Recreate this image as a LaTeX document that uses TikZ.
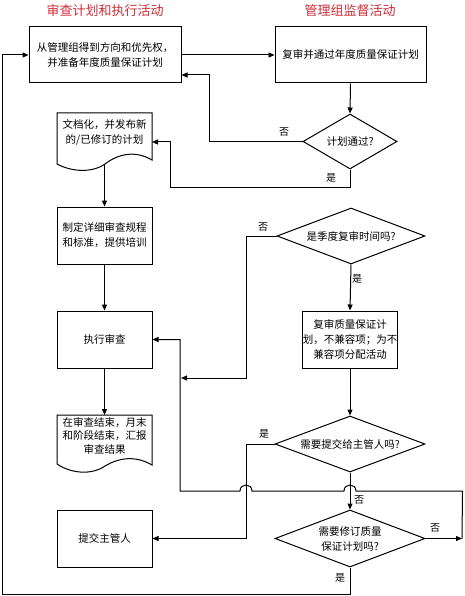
\documentclass[tikz,border=0pt]{standalone}
\usepackage{fontspec}
\newfontfamily\cjk{Noto Sans CJK SC}
\usetikzlibrary{shapes.geometric,arrows.meta}
\definecolor{titlered}{RGB}{205,45,55}
\begin{document}
\begin{tikzpicture}[x=1pt,y=-1pt,
  every node/.style={font=\cjk\fontsize{10.5}{15}\selectfont, align=center, inner sep=0pt},
  box/.style={draw, line width=1pt, minimum width=95pt, minimum height=57pt},
  dia/.style={draw, diamond, line width=1pt},
  ttl/.style={font=\cjk\fontsize{13}{15}\selectfont, text=titlered},
  lab/.style={font=\cjk\fontsize{10}{12}\selectfont},
  doc/.style={line width=1pt},
  arr/.style={line width=1pt, -{Triangle[length=6pt,width=5pt]}},
  ln/.style={line width=1pt}]
\useasboundingbox (0,0) rectangle (464,596);

% titles
\node[ttl] (tl) at (105,11) {审查计划和执行活动};
\node[ttl] (tr) at (350,11) {管理组监督活动};

% left column
\node[box, minimum width=152pt, minimum height=56pt] (A) at (105,55) {从管理组得到方向和优先权，\\并准备年度质量保证计划};
\draw[doc] (57,113) -- (152,113) -- (152,160) .. controls (135,150) and (118,154) .. (105,164) .. controls (92,173) and (72,172) .. (57,164) -- cycle;
\node (C) at (104.5,132.5) {文档化，并发布新\\的/已修订的计划};
\coordinate (Cb) at (104.5,164.5);
\coordinate (Cin) at (152,142);
\node[box] (E) at (104.5,235.5) {制定详细审查规程\\和标准，提供培训};
\node[box] (F) at (104.5,339.5) {执行审查};
\draw[doc] (57,415) -- (152,415) -- (152,465) .. controls (135,455) and (118,458) .. (105,466) .. controls (92,475) and (72,474) .. (57,464) -- cycle;
\node[font=\cjk\fontsize{10.5}{13.5}\selectfont] (G) at (104.5,435.5) {在审查结束，月末\\和阶段结束，汇报\\审查结果};
\coordinate (Gt) at (104.5,415);
\node[box] (H) at (104.5,538.5) {提交主管人};

% right column
\node[box, minimum width=151pt, minimum height=56pt] (B) at (350.5,55) {复审并通过年度质量保证计划};
\node[dia, minimum width=94pt, minimum height=55pt, shape aspect=1.7] (D1) at (350,141.5) {计划通过?};
\node[dia, minimum width=148pt, minimum height=56pt, shape aspect=2.64] (D2) at (351,236) {是季度复审时间吗?};
\node[box] (I) at (350,339.5) {复审质量保证计\\划，不兼容项；为不\\兼容项分配活动};
\node[dia, minimum width=150pt, minimum height=56pt, shape aspect=2.68] (D3) at (350,444) {需要提交给主管人吗?};
\node[dia, minimum width=150pt, minimum height=57pt, shape aspect=2.63] (D4) at (350,538.5) {需要修订质量\\保证计划吗?};

% coordinates
\coordinate (p1) at (209,75);
\coordinate (p2) at (170,187);
\coordinate (q1) at (246,378);
\coordinate (q2) at (181,378);
\coordinate (r1) at (246,538.5);
\coordinate (s1) at (462,538.5);
\coordinate (t1) at (462.5,491);
\coordinate (t2) at (180,491);
\coordinate (u1) at (2.5,594);

% connectors
\draw[arr] (A.east) -- (B.west);
\draw[arr] (B.south) -- (D1.north);
\draw[arr] (D1.west) -| (p1) -- (A.east |- p1);
\draw[arr] (D1.south) |- (p2) |- (Cin);
\draw[arr] (Cb) -- (E.north);
\draw[arr] (E.south) -- (F.north);
\draw[arr] (F.south) -- (Gt);
\draw[arr] (D2.west) -| (q1) -- (q2);
\draw[arr] (D2.south) -- (I.north);
\draw[arr] (I.south) -- (D3.north);
\draw[arr] (D3.west) -| (r1) -- (H.east);
\draw[arr] (D3.south) -- (D4.north);
\draw[arr] (D4.east) -- (s1);
\draw[ln] (s1) -- (t1);
\draw[arr] (t1) -- (356,491) .. controls (356,483) and (344,483) .. (344,491)
  -- (252,491) .. controls (252,483) and (240,483) .. (240,491)
  -- (t2) |- (F.east);
\draw[arr] (D4.south) |- (u1) |- (A.west);

% labels
\node[lab] (l1) at (284,132) {否};
\node[lab] (l2) at (331,178) {是};
\node[lab] (l3) at (263,227) {否};
\node[lab] (l4) at (357,279) {是};
\node[lab] (l5) at (264,434) {是};
\node[lab] (l6) at (359,500) {否};
\node[lab] (l7) at (435,528) {否};
\node[lab] (l8) at (340,578) {是};
\end{tikzpicture}
\end{document}
